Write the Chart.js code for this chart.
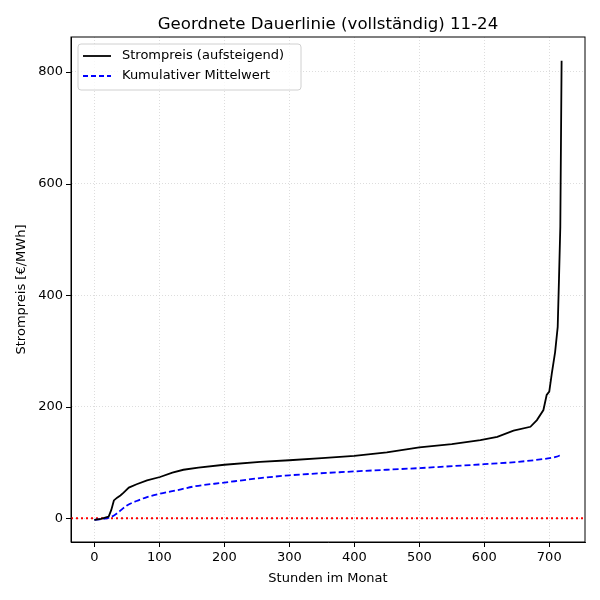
<!DOCTYPE html>
<html>
<head>
<meta charset="utf-8">
<script src="https://cdn.jsdelivr.net/npm/chart.js@4"></script>
<style>
  html, body { margin: 0; padding: 0; background: #fff; }
  #wrap { width: 600px; height: 600px; }
</style>
</head>
<body>
<div id="wrap"><canvas id="myChart" width="600" height="600"></canvas></div>
<script>
// sorted hourly prices (hour index -> price)
const sortedHours  = [0, 10, 22, 26, 30, 35, 40, 45, 53, 65, 81, 101, 120, 137, 160, 200, 255, 300, 350, 400, 450, 500, 550, 594, 620, 645, 671, 681, 691, 696, 700, 704, 709, 713, 715, 717, 719]
const sortedPrices = [-3, -1, 3, 15, 32, 37, 41, 46, 55, 61, 68, 74, 82, 87, 91, 96, 101, 104, 108, 112, 118, 127, 133, 140, 146, 157, 164, 176, 194, 221, 227, 260, 298, 343, 430, 522, 820]
// cumulative mean
const meanHours  = [0, 25, 35, 50, 65, 81, 101, 130, 153, 200, 255, 300, 400, 500, 600, 650, 696, 710, 719]
const meanValues = [-3, 2, 9, 23, 31, 38, 44, 51, 57, 64, 72, 77, 84, 90, 97, 101, 107, 110, 114]
const xTicks = [0, 100, 200, 300, 400, 500, 600, 700]
const yTicks = [0, 200, 400, 600, 800]
const titleText = 'Geordnete Dauerlinie (vollständig) 11-24'
const seriesNames = ['Strompreis (aufsteigend)', 'Kumulativer Mittelwert']

const FONT = 'DejaVu Sans'

const toXY = (xs, ys) => xs.map((x, i) => ({ x: x, y: ys[i] }))

const frame = {
  id: 'frame',
  beforeDatasetsDraw(chart) {
    const { ctx, chartArea: a, scales } = chart
    const y0 = scales.y.getPixelForValue(0)
    ctx.save()
    ctx.strokeStyle = 'red'
    ctx.lineWidth = 2
    ctx.setLineDash([2, 3])
    ctx.beginPath()
    ctx.moveTo(a.left, y0)
    ctx.lineTo(a.right, y0)
    ctx.stroke()
    ctx.restore()
  },
  afterDraw(chart) {
    const { ctx, chartArea: a, scales } = chart
    ctx.save()
    ctx.strokeStyle = '#000'
    ctx.lineWidth = 1
    ctx.strokeRect(a.left, a.top, a.right - a.left, a.bottom - a.top)
    // tick marks (outward, like matplotlib)
    ctx.beginPath()
    xTicks.forEach(v => {
      const px = Math.round(scales.x.getPixelForValue(v)) + 0.5
      ctx.moveTo(px, a.bottom)
      ctx.lineTo(px, a.bottom + 5)
    })
    yTicks.forEach(v => {
      const py = Math.round(scales.y.getPixelForValue(v)) + 0.5
      ctx.moveTo(a.left, py)
      ctx.lineTo(a.left - 5, py)
    })
    ctx.stroke()
    // title
    ctx.fillStyle = '#000'
    ctx.font = '16.6px "' + FONT + '"'
    ctx.textAlign = 'center'
    ctx.textBaseline = 'alphabetic'
    ctx.fillText(titleText, (a.left + a.right) / 2, a.top - 8)
    // legend box
    const lx = a.left + 7, ly = a.top + 7, lw = 223, lh = 46
    ctx.fillStyle = 'rgba(255,255,255,0.8)'
    ctx.strokeStyle = '#d0d0d0'
    ctx.lineWidth = 1
    ctx.beginPath()
    ctx.roundRect(lx, ly, lw, lh, 3)
    ctx.fill()
    ctx.stroke()
    const styles = [
      { color: '#000', dash: [] },
      { color: 'blue', dash: [5, 3] }
    ]
    ctx.font = '13px "' + FONT + '"'
    ctx.textAlign = 'left'
    ctx.textBaseline = 'middle'
    seriesNames.forEach((name, i) => {
      const yy = ly + 12 + i * 20
      ctx.strokeStyle = styles[i].color
      ctx.lineWidth = 1.8
      ctx.setLineDash(styles[i].dash)
      ctx.beginPath()
      ctx.moveTo(lx + 5, yy)
      ctx.lineTo(lx + 33, yy)
      ctx.stroke()
      ctx.setLineDash([])
      ctx.fillStyle = '#000'
      ctx.fillText(name, lx + 44, yy)
    })
    ctx.restore()
  }
}

const gridOpts = { color: '#d4d4d4', lineWidth: 0.8, drawTicks: true, tickLength: 5, tickColor: 'rgba(0,0,0,0)' }

const ctx = document.getElementById('myChart').getContext('2d')
const myChart = new Chart(ctx, {
  type: 'line',
  data: {
    datasets: [
      {
        label: seriesNames[0],
        data: toXY(sortedHours, sortedPrices),
        borderColor: '#000',
        borderWidth: 1.8,
        pointRadius: 0,
        tension: 0,
        fill: false
      },
      {
        label: seriesNames[1],
        data: toXY(meanHours, meanValues),
        borderColor: 'blue',
        borderWidth: 1.8,
        borderDash: [6, 3],
        pointRadius: 0,
        cubicInterpolationMode: 'monotone',
        fill: false
      }
    ]
  },
  options: {
    responsive: false,
    animation: false,
    layout: { padding: { top: 37, right: 15, left: 0, bottom: 0 } },
    plugins: {
      legend: { display: false },
      title: { display: false },
      tooltip: { enabled: false }
    },
    scales: {
      x: {
        type: 'linear',
        min: -36,
        max: 755,
        afterFit(s) { s.height = 58 },
        afterBuildTicks(s) { s.ticks = xTicks.map(v => ({ value: v })) },
        ticks: { color: '#000', font: { family: FONT, size: 13 }, padding: 3 },
        grid: gridOpts,
        border: { color: '#000', dash: [1, 2] },
        title: { display: true, text: 'Stunden im Monat', color: '#000', font: { family: FONT, size: 13 }, padding: { top: 2, bottom: 14 } }
      },
      y: {
        type: 'linear',
        min: -42.5,
        max: 862.7,
        afterFit(s) { s.width = 71 },
        afterBuildTicks(s) { s.ticks = yTicks.map(v => ({ value: v })) },
        ticks: { color: '#000', font: { family: FONT, size: 13 }, padding: 3 },
        grid: gridOpts,
        border: { color: '#000', dash: [1, 2] },
        title: { display: true, text: 'Strompreis [€/MWh]', color: '#000', font: { family: FONT, size: 13 }, padding: { top: 14, bottom: 4 } }
      }
    }
  },
  plugins: [frame]
})
</script>
</body>
</html>
